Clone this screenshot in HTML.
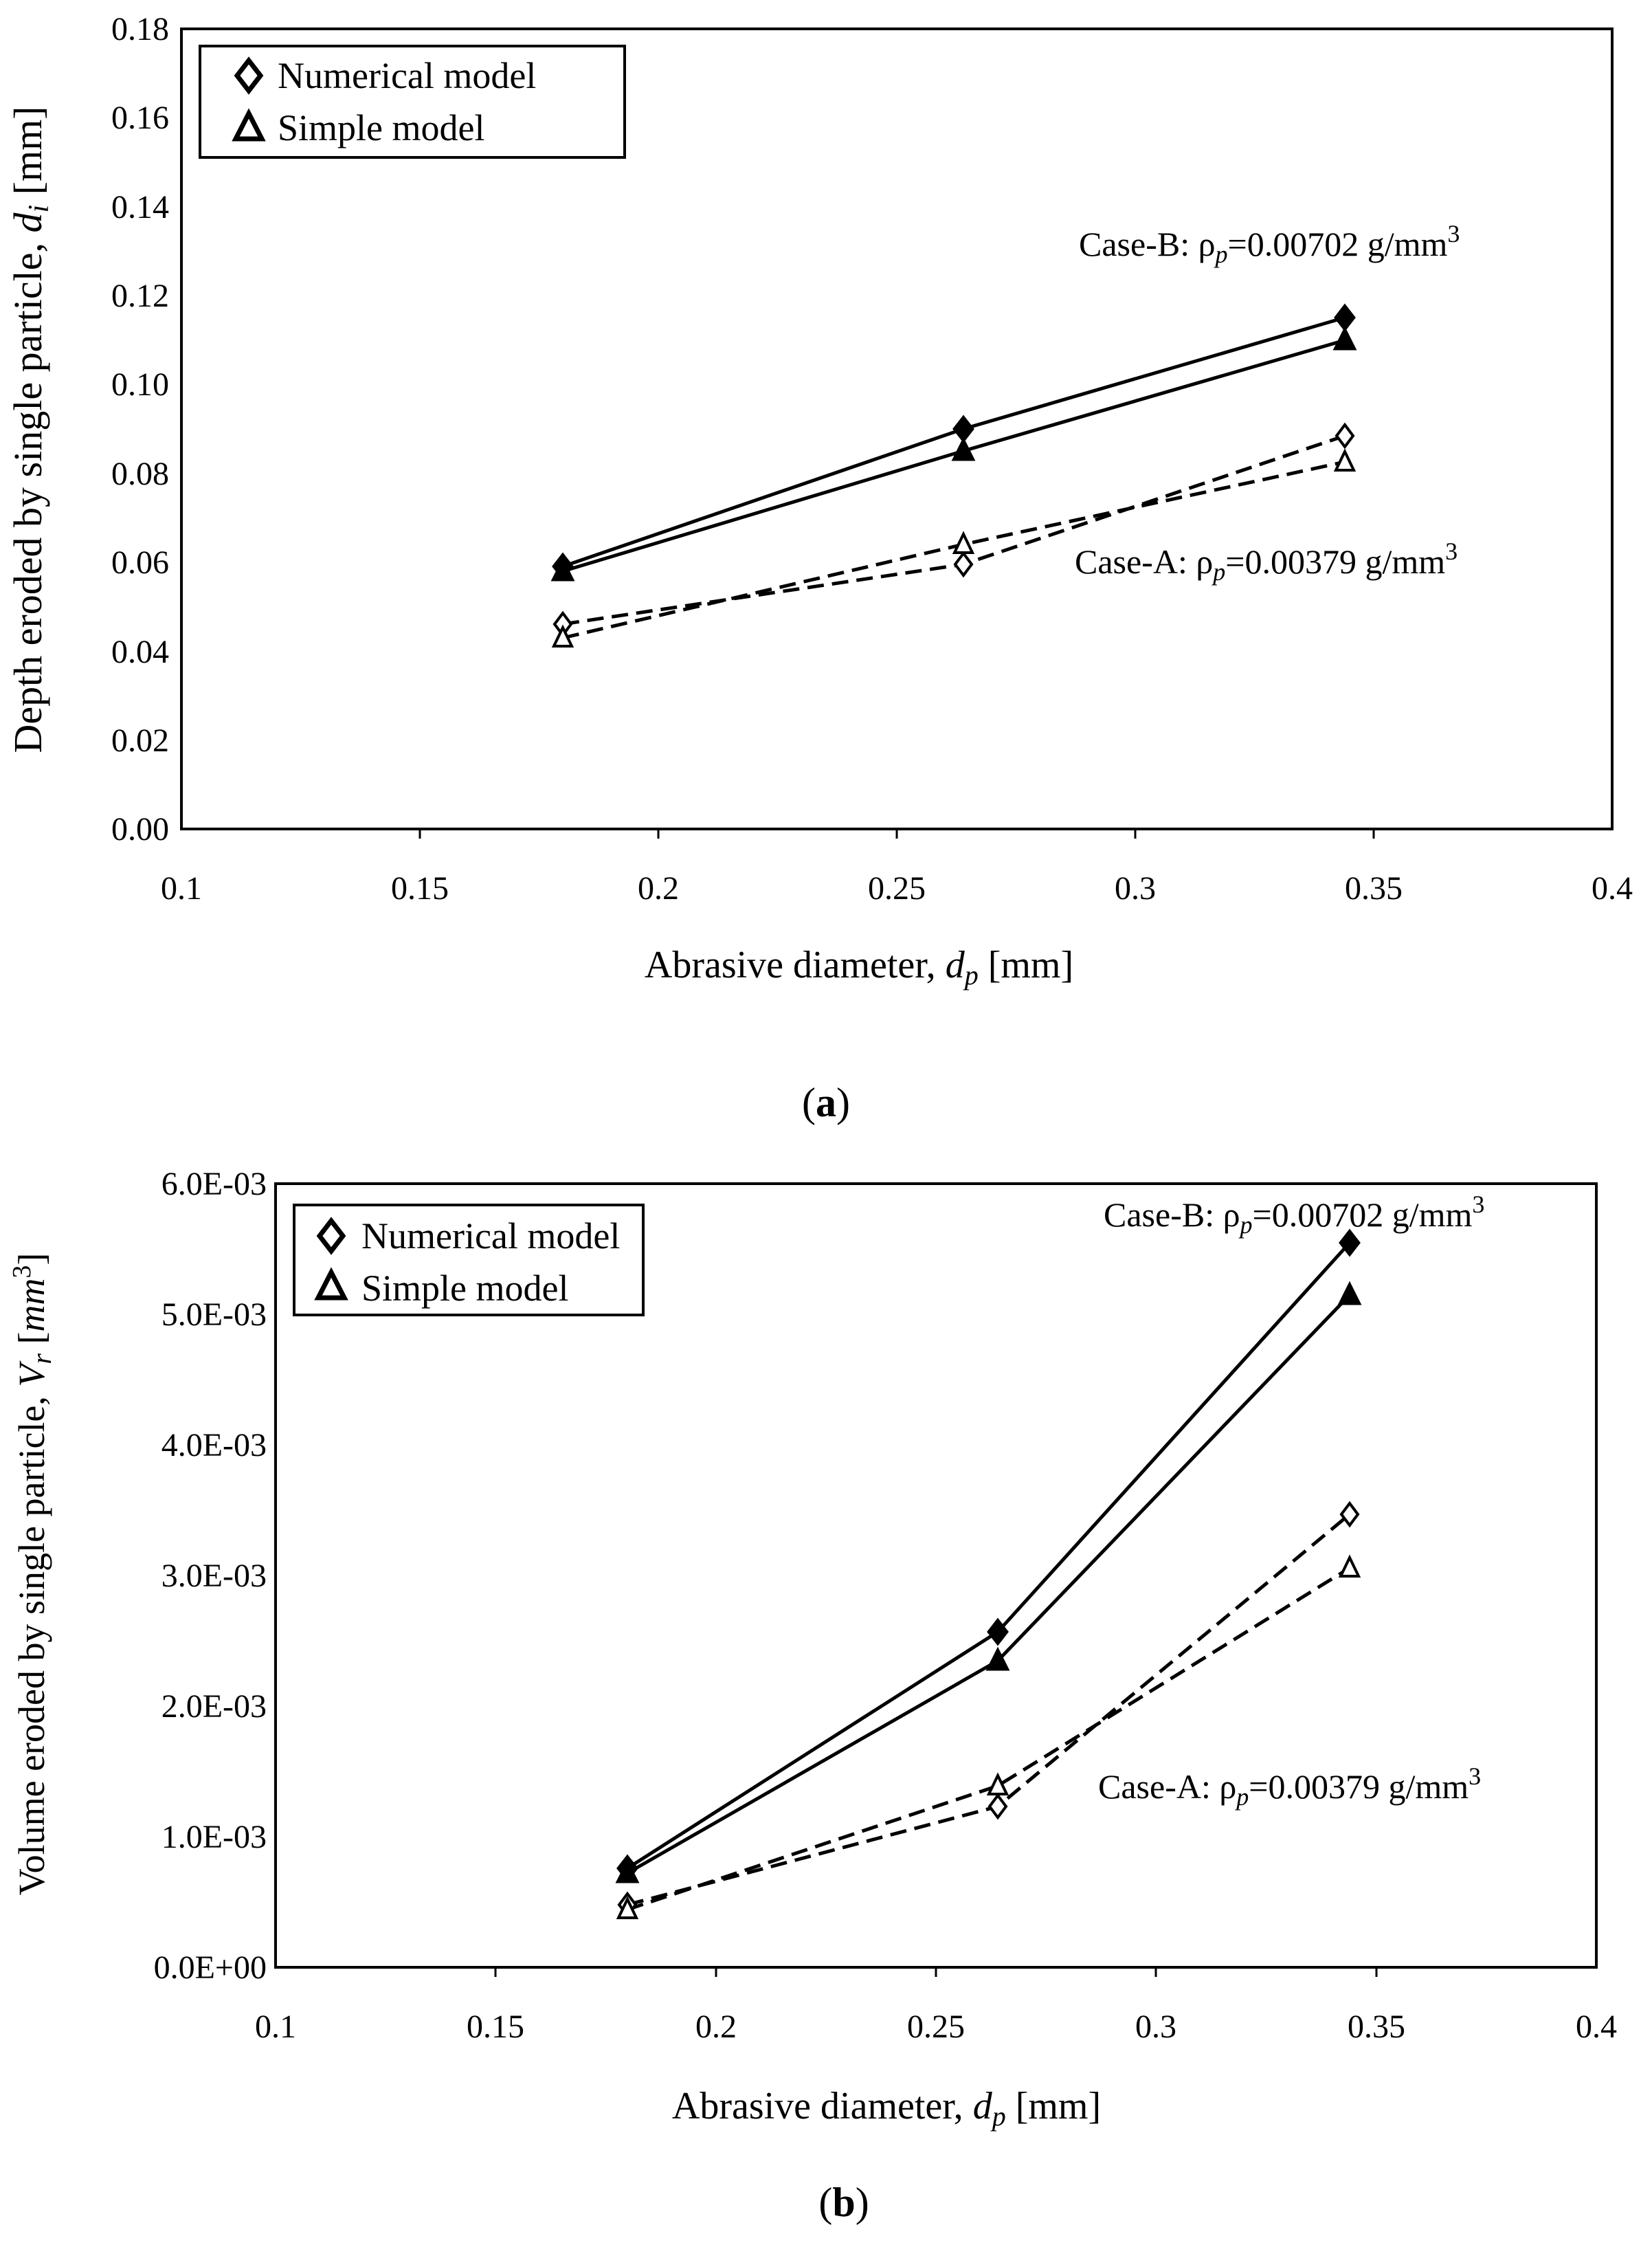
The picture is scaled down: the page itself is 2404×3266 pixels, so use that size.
<!DOCTYPE html>
<html><head><meta charset="utf-8"><style>
html,body{margin:0;padding:0;background:#fff}
svg{display:block}
text{font-family:"Liberation Serif",serif;fill:#000}
</style></head><body>
<svg width="2404" height="3266" viewBox="0 0 2404 3266" xmlns="http://www.w3.org/2000/svg">
<defs>
<path id="df" d="M0,-18 L14,0 L0,18 L-14,0 Z" fill="#000" stroke="#000" stroke-width="3"/>
<path id="do" d="M0,-16 L12,0 L0,16 L-12,0 Z" fill="#fff" stroke="#000" stroke-width="4"/>
<path id="tf" d="M0,-17 L15,13 L-15,13 Z" fill="#000" stroke="#000" stroke-width="3"/>
<path id="to" d="M0,-15 L13,12 L-13,12 Z" fill="#fff" stroke="#000" stroke-width="4"/>
<path id="dl" d="M0,-22 L17,0 L0,22 L-17,0 Z" fill="#fff" stroke="#000" stroke-width="7"/>
<path id="tl" d="M0,-21 L19,16 L-19,16 Z" fill="#fff" stroke="#000" stroke-width="7"/>
</defs>

<!-- ===== Chart (a) ===== -->
<rect x="264" y="42" width="2082" height="1164" fill="none" stroke="#000" stroke-width="4"/>
<g stroke="#000" stroke-width="3">
<line x1="611" y1="1206" x2="611" y2="1220"/><line x1="958" y1="1206" x2="958" y2="1220"/>
<line x1="1305" y1="1206" x2="1305" y2="1220"/><line x1="1652" y1="1206" x2="1652" y2="1220"/>
<line x1="1999" y1="1206" x2="1999" y2="1220"/>
</g>
<g font-size="48" text-anchor="end">
<text x="246" y="1222">0.00</text><text x="246" y="1093">0.02</text><text x="246" y="964">0.04</text>
<text x="246" y="834">0.06</text><text x="246" y="705">0.08</text><text x="246" y="575">0.10</text>
<text x="246" y="446">0.12</text><text x="246" y="317">0.14</text><text x="246" y="187">0.16</text>
<text x="246" y="58">0.18</text>
</g>
<g font-size="48" text-anchor="middle">
<text x="264" y="1308">0.1</text><text x="611" y="1308">0.15</text><text x="958" y="1308">0.2</text>
<text x="1305" y="1308">0.25</text><text x="1652" y="1308">0.3</text><text x="1999" y="1308">0.35</text>
<text x="2346" y="1308">0.4</text>
</g>
<text x="1250" y="1422" font-size="56" text-anchor="middle">Abrasive diameter, <tspan font-style="italic">d</tspan><tspan font-style="italic" font-size="40" dy="10">p</tspan><tspan dy="-10"> [mm]</tspan></text>
<text transform="translate(60,625) rotate(-90)" font-size="58" text-anchor="middle">Depth eroded by single particle, <tspan font-style="italic">d</tspan><tspan font-style="italic" font-size="42" dy="10">i</tspan><tspan dy="-10"> [mm]</tspan></text>

<!-- legend (a) -->
<rect x="291" y="67" width="618" height="162" fill="#fff" stroke="#000" stroke-width="4"/>
<use href="#dl" x="362" y="110"/><text x="404" y="128" font-size="54">Numerical model</text>
<use href="#tl" x="362" y="186"/><text x="404" y="204" font-size="54">Simple model</text>

<g fill="none" stroke="#000" stroke-width="5">
<polyline points="819,824 1402,624 1957,462"/>
<polyline points="819,831 1402,656 1957,495"/>
<polyline points="819,908 1402,821 1957,634" stroke-dasharray="24,12"/>
<polyline points="819,928 1402,792 1957,672" stroke-dasharray="24,12"/>
</g>
<use href="#df" x="819" y="824"/><use href="#df" x="1402" y="624"/><use href="#df" x="1957" y="462"/>
<use href="#tf" x="819" y="831"/><use href="#tf" x="1402" y="656"/><use href="#tf" x="1957" y="495"/>
<use href="#do" x="819" y="908"/><use href="#do" x="1402" y="821"/><use href="#do" x="1957" y="634"/>
<use href="#to" x="819" y="928"/><use href="#to" x="1402" y="792"/><use href="#to" x="1957" y="672"/>

<text x="1570" y="372" font-size="50">Case-B: ρ<tspan font-style="italic" font-size="36" dy="10">p</tspan><tspan dy="-10">=0.00702 g/mm</tspan><tspan font-size="36" dy="-20">3</tspan></text>
<text x="1564" y="834" font-size="50">Case-A: ρ<tspan font-style="italic" font-size="36" dy="10">p</tspan><tspan dy="-10">=0.00379 g/mm</tspan><tspan font-size="36" dy="-20">3</tspan></text>

<text x="1202" y="1624" font-size="60" text-anchor="middle">(<tspan font-weight="bold">a</tspan>)</text>

<!-- ===== Chart (b) ===== -->
<rect x="401" y="1722" width="1922" height="1140" fill="none" stroke="#000" stroke-width="4"/>
<g stroke="#000" stroke-width="3">
<line x1="721" y1="2862" x2="721" y2="2876"/><line x1="1042" y1="2862" x2="1042" y2="2876"/>
<line x1="1362" y1="2862" x2="1362" y2="2876"/><line x1="1682" y1="2862" x2="1682" y2="2876"/>
<line x1="2003" y1="2862" x2="2003" y2="2876"/>
</g>
<g font-size="48" text-anchor="end">
<text x="388" y="2878">0.0E+00</text><text x="388" y="2688">1.0E-03</text><text x="388" y="2498">2.0E-03</text>
<text x="388" y="2308">3.0E-03</text><text x="388" y="2118">4.0E-03</text><text x="388" y="1928">5.0E-03</text>
<text x="388" y="1738">6.0E-03</text>
</g>
<g font-size="48" text-anchor="middle">
<text x="401" y="2964">0.1</text><text x="721" y="2964">0.15</text><text x="1042" y="2964">0.2</text>
<text x="1362" y="2964">0.25</text><text x="1682" y="2964">0.3</text><text x="2003" y="2964">0.35</text>
<text x="2323" y="2964">0.4</text>
</g>
<text x="1290" y="3082" font-size="56" text-anchor="middle">Abrasive diameter, <tspan font-style="italic">d</tspan><tspan font-style="italic" font-size="40" dy="10">p</tspan><tspan dy="-10"> [mm]</tspan></text>
<text transform="translate(64,2290) rotate(-90)" font-size="54" text-anchor="middle">Volume eroded by single particle, <tspan font-style="italic">V</tspan><tspan font-style="italic" font-size="40" dy="10">r</tspan><tspan dy="-10"> [</tspan><tspan font-style="italic">mm</tspan><tspan font-size="38" dy="-20">3</tspan><tspan dy="20">]</tspan></text>

<!-- legend (b) -->
<rect x="428" y="1753" width="508" height="160" fill="#fff" stroke="#000" stroke-width="4"/>
<use href="#dl" x="482" y="1798"/><text x="526" y="1816" font-size="54">Numerical model</text>
<use href="#tl" x="482" y="1872"/><text x="526" y="1892" font-size="54">Simple model</text>

<g fill="none" stroke="#000" stroke-width="5">
<polyline points="913,2718 1452,2374 1964,1808"/>
<polyline points="913,2725 1452,2416 1964,1884"/>
<polyline points="913,2771 1452,2628 1964,2203" stroke-dasharray="24,12"/>
<polyline points="913,2778 1452,2598 1964,2281" stroke-dasharray="24,12"/>
</g>
<use href="#df" x="913" y="2718"/><use href="#df" x="1452" y="2374"/><use href="#df" x="1964" y="1808"/>
<use href="#tf" x="913" y="2725"/><use href="#tf" x="1452" y="2416"/><use href="#tf" x="1964" y="1884"/>
<use href="#do" x="913" y="2771"/><use href="#do" x="1452" y="2628"/><use href="#do" x="1964" y="2203"/>
<use href="#to" x="913" y="2778"/><use href="#to" x="1452" y="2598"/><use href="#to" x="1964" y="2281"/>

<text x="1606" y="1784" font-size="50">Case-B: ρ<tspan font-style="italic" font-size="36" dy="10">p</tspan><tspan dy="-10">=0.00702 g/mm</tspan><tspan font-size="36" dy="-20">3</tspan></text>
<text x="1598" y="2616" font-size="50">Case-A: ρ<tspan font-style="italic" font-size="36" dy="10">p</tspan><tspan dy="-10">=0.00379 g/mm</tspan><tspan font-size="36" dy="-20">3</tspan></text>

<text x="1228" y="3224" font-size="60" text-anchor="middle">(<tspan font-weight="bold">b</tspan>)</text>
</svg>
</body></html>
